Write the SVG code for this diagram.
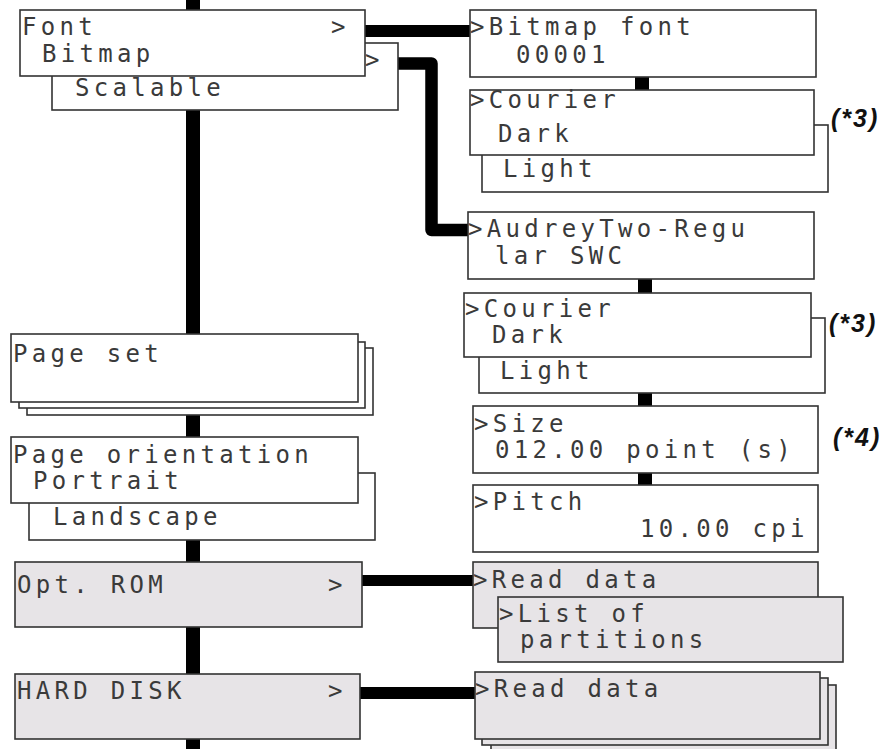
<svg xmlns="http://www.w3.org/2000/svg" width="886" height="749" viewBox="0 0 886 749">
<style>
.b{fill:#fff;stroke:#333;stroke-width:1.6}
.g{fill:#e7e4e7;stroke:#333;stroke-width:1.6}
.t{font-family:"DejaVu Sans Mono",monospace;font-size:24px;letter-spacing:4.3px;fill:#3a3a3a}
.n{font-family:"Liberation Sans",Arial,sans-serif;font-size:25px;font-weight:bold;font-style:italic;letter-spacing:2px;fill:#111}
.c{fill:#000}
</style>
<rect width="886" height="749" fill="#fff"/>
<g id="connectors">
<rect class="c" x="186" y="0" width="14" height="749"/>
<rect class="c" x="364" y="25" width="107" height="12"/>
<path d="M398,63.5 H431.5 V230 H469" fill="none" stroke="#000" stroke-width="12.5" stroke-linejoin="round"/>
<rect class="c" x="635" y="76" width="14" height="15"/>
<rect class="c" x="638" y="279" width="14" height="15"/>
<rect class="c" x="638" y="392" width="14" height="15"/>
<rect class="c" x="638" y="472" width="14" height="14"/>
<rect class="c" x="361" y="575" width="113" height="11"/>
<rect class="c" x="359" y="687" width="117" height="12"/>
</g>
<g id="font">
<rect class="b" x="52" y="43" width="346" height="67"/>
<text class="t" x="75" y="96">Scalable</text>
<text class="t" x="365" y="68">&gt;</text>
<rect class="b" x="20" y="10" width="345" height="66"/>
<text class="t" x="22" y="35">Font</text>
<text class="t" x="331" y="35">&gt;</text>
<text class="t" x="42" y="62">Bitmap</text>
</g>
<g id="bitmap-font">
<rect class="b" x="470" y="10" width="346" height="67"/>
<text class="t" x="470" y="35">&gt;Bitmap font</text>
<text class="t" x="516" y="63">00001</text>
</g>
<g id="courier1">
<rect class="b" x="482" y="125" width="346" height="67"/>
<text class="t" x="503" y="177">Light</text>
<rect class="b" x="470" y="90" width="344" height="65"/>
<text class="t" x="470" y="108">&gt;Courier</text>
<text class="t" x="498" y="142">Dark</text>
<text class="n" x="831" y="127">(*3)</text>
</g>
<g id="audrey">
<rect class="b" x="468" y="212" width="346" height="67"/>
<text class="t" x="468" y="237">&gt;AudreyTwo-Regu</text>
<text class="t" x="495" y="264">lar SWC</text>
</g>
<g id="courier2">
<rect class="b" x="479" y="318" width="346" height="75"/>
<text class="t" x="500" y="379">Light</text>
<rect class="b" x="464" y="293" width="347" height="64"/>
<text class="t" x="465" y="317">&gt;Courier</text>
<text class="t" x="492" y="343">Dark</text>
<text class="n" x="829" y="332">(*3)</text>
</g>
<g id="size">
<rect class="b" x="473" y="406" width="345" height="67"/>
<text class="t" x="474" y="432">&gt;Size</text>
<text class="t" x="495" y="458">012.00 point (s)</text>
<text class="n" x="833" y="446">(*4)</text>
</g>
<g id="pitch">
<rect class="b" x="473" y="485" width="345" height="67"/>
<text class="t" x="474" y="510">&gt;Pitch</text>
<text class="t" x="640" y="537">10.00 cpi</text>
</g>
<g id="page-set">
<rect class="b" x="27" y="348" width="346" height="67"/>
<rect class="b" x="19" y="342" width="346" height="66"/>
<rect class="b" x="11" y="334" width="347" height="68"/>
<text class="t" x="13" y="362">Page set</text>
</g>
<g id="page-orientation">
<rect class="b" x="29" y="473" width="346" height="67"/>
<text class="t" x="53" y="525">Landscape</text>
<rect class="b" x="11" y="437" width="347" height="66"/>
<text class="t" x="13" y="463">Page orientation</text>
<text class="t" x="33" y="489">Portrait</text>
</g>
<g id="opt-rom">
<rect class="g" x="15" y="562" width="347" height="65"/>
<text class="t" x="17" y="593">Opt. ROM</text>
<text class="t" x="328" y="593">&gt;</text>
</g>
<g id="read-data1">
<rect class="g" x="473" y="562" width="345" height="66"/>
<text class="t" x="473" y="588">&gt;Read data</text>
<rect class="g" x="498" y="597" width="345" height="65"/>
<text class="t" x="499" y="622">&gt;List of</text>
<text class="t" x="520" y="648">partitions</text>
</g>
<g id="hard-disk">
<rect class="g" x="15" y="674" width="345" height="65"/>
<text class="t" x="17" y="699">HARD DISK</text>
<text class="t" x="328" y="699">&gt;</text>
</g>
<g id="read-data2">
<rect class="g" x="491" y="685" width="345" height="75"/>
<rect class="g" x="482" y="678" width="346" height="67"/>
<rect class="g" x="475" y="672" width="345" height="67"/>
<text class="t" x="475" y="697">&gt;Read data</text>
</g>
</svg>
